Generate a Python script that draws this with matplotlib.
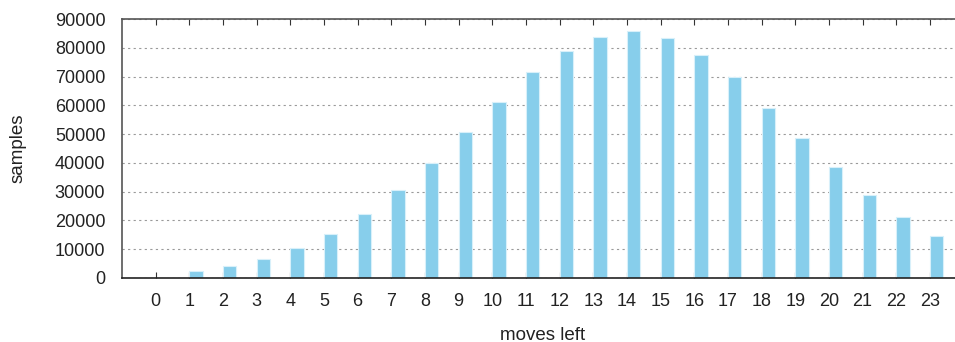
import matplotlib

matplotlib.use("Agg")
import matplotlib.pyplot as plt

moves_left = list(range(24))
samples = [
    150, 2540, 4280, 6700, 10420, 15290, 22240, 30460, 39960, 50840,
    61150, 71460, 78760, 83740, 85710, 83280, 77600, 69840, 59180,
    48530, 38680, 28840, 21080, 14480,
]
y_ticks = list(range(0, 90001, 10000))

plt.rcParams["font.family"] = ["Liberation Sans", "DejaVu Sans"]

fig = plt.figure(figsize=(9.55, 3.42), dpi=100)
# right edge sits past the image, like the clipped original
ax = fig.add_axes([122 / 955, 1 - 278 / 342, (963.5 - 122) / 955, (278 - 19) / 342])

ax.bar(moves_left, samples, width=0.4, align="edge", color="#87ceeb",
       edgecolor="#d8f0fa", linewidth=0.8, zorder=2)

ax.set_xlim(-1, 24)
ax.set_ylim(0, 90000)
ax.set_xticks(moves_left)
ax.set_yticks(y_ticks)
ax.tick_params(axis="both", labelsize=13, colors="#222222")
ax.tick_params(axis="x", direction="in", length=4, top=True, pad=11, color="#333333")
ax.tick_params(axis="y", length=0, pad=12)

ax.yaxis.grid(True, linestyle=(0, (2, 3)), color="#9a9a9a", linewidth=0.8, zorder=1)
for side in ("left", "top", "right"):
    ax.spines[side].set_color("#555555")
ax.spines["bottom"].set_color("#222222")
for s in ax.spines.values():
    s.set_linewidth(1.2)

ax.set_xlabel("moves left", fontsize=13.5, labelpad=12, color="#222222")
ax.set_ylabel("samples", fontsize=13.5, labelpad=20, color="#222222")

fig.savefig("out.png", dpi=100)
